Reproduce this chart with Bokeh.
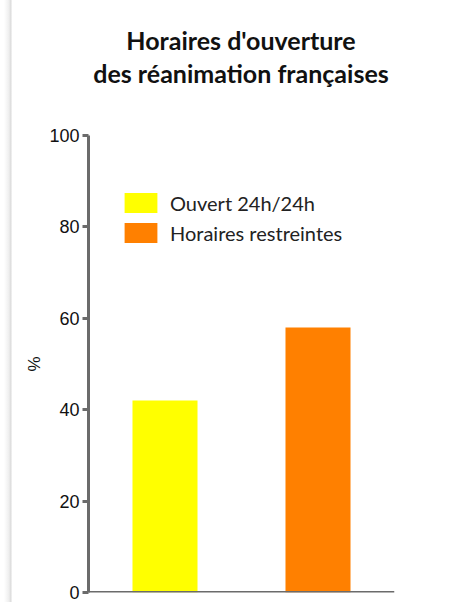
from bokeh.plotting import figure
from bokeh.models import Range1d, FactorRange, Legend, LegendItem, ColumnDataSource, FixedTicker, Span, Div
from bokeh.layouts import column
from bokeh.embed import file_html
from bokeh.resources import INLINE

categories = ["Ouvert 24h/24h", "Horaires restreintes"]
values = [42, 58]
colors = ["#FFFF00", "#FF8000"]
y_ticks = [0, 20, 40, 60, 80, 100]
title_lines = ["Horaires d'ouverture", "des réanimation françaises"]
y_label = "%"

AXIS_COLOR = "#6b6b6b"

title_html = ('<div style="margin-left:49px;width:384px;padding-top:24px;text-align:center;'
              'font-family:Lato;font-weight:bold;font-size:25px;line-height:33px;color:#111111;">'
              + "<br>".join(title_lines) + '</div>')
title_div = Div(text=title_html, width=433, height=100, margin=0)

p = figure(width=433, height=502, x_range=FactorRange(factors=categories, range_padding=0),
           y_range=Range1d(0, 100), output_backend="svg", toolbar_location=None,
           min_border_left=88, min_border_right=39, min_border_top=35, min_border_bottom=10,
           border_fill_color=None, margin=0)

src = ColumnDataSource(dict(cat=categories, val=values, col=colors))
r = p.vbar(x="cat", top="val", width=0.425, fill_color="col", line_color=None, source=src)

p.add_layout(Span(location=0, dimension="width", line_color=AXIS_COLOR, line_width=3))

legend = Legend(items=[LegendItem(label=categories[i], renderers=[r], index=i) for i in range(2)],
                location=(32, 347), margin=0, padding=0, border_line_alpha=0,
                background_fill_alpha=0, glyph_width=41, glyph_height=25, label_standoff=9,
                spacing=5, label_text_font="Lato", label_text_font_size="20px",
                label_text_color="#222222", label_height=25)
p.add_layout(legend, "center")

p.grid.visible = False
p.outline_line_color = None
p.xaxis.visible = False

ya = p.yaxis[0]
ya.ticker = FixedTicker(ticks=y_ticks)
ya.axis_line_width = 3
ya.axis_line_color = AXIS_COLOR
ya.major_tick_line_width = 3
ya.major_tick_line_color = AXIS_COLOR
ya.major_tick_out = 6
ya.major_tick_in = 0
ya.minor_tick_line_color = None
ya.major_label_text_font = "Liberation Sans"
ya.major_label_text_font_size = "18px"
ya.major_label_text_color = "#111111"
ya.major_label_standoff = 3
ya.axis_label = y_label
ya.axis_label_text_font = "Liberation Sans"
ya.axis_label_text_font_size = "17px"
ya.axis_label_text_font_style = "normal"
ya.axis_label_text_color = "#111111"
ya.axis_label_standoff = 2

layout = column(title_div, p, spacing=0,
                styles={"background": "linear-gradient(to right, #ffffff 4px, #eeeeee 9px, #dadada 11px, #ffffff 12px)"})

open("out.html", "w").write(file_html(layout, INLINE))
